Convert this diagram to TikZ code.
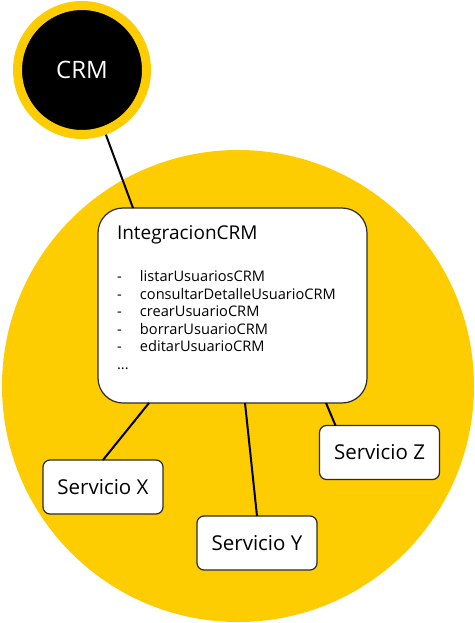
\documentclass[tikz,border=0pt]{standalone}
\usepackage{fontspec}
\setmainfont{Open Sans}
\usetikzlibrary{positioning, calc}
\definecolor{crmyellow}{HTML}{FDCD02}
\definecolor{boxedge}{HTML}{2B2B2B}

\begin{document}
\begin{tikzpicture}[
  x=1pt, y=-1pt,
  every node/.style={inner sep=0pt, outer sep=0pt},
  zone/.style={circle, fill=crmyellow, minimum size=472pt},
  system/.style={
    circle, fill=black, draw=crmyellow, line width=9pt,
    minimum size=129pt, outer sep=4.5pt,
    text=white, font=\fontsize{24}{28}\selectfont,
  },
  module/.style={
    rectangle, rounded corners=25pt,
    minimum width=269pt, minimum height=195pt,
    draw=boxedge, line width=1.2pt, fill=white,
  },
  service/.style={
    rectangle, rounded corners=7pt,
    minimum width=120pt, minimum height=54pt,
    draw=boxedge, line width=1.2pt, fill=white,
    font=\fontsize{20.5}{24}\selectfont,
  },
  link/.style={draw=black, line width=2pt},
]
\useasboundingbox (0,0) rectangle (474,623);

\node[zone]   (zone)  at (238,386)   {};
\node[system] (crm)   at (82,70)     {CRM};
\node[module] (integ) at (232.5,305.5) {};

% contents of the integration box
\node[anchor=base west, font=\fontsize{19}{24}\selectfont] (title) at (117,239) {IntegracionCRM};
\node[anchor=north west, align=left, font=\fontsize{14.6}{17.5}\selectfont] (ops) at (117,270.5)
  {\makebox[23pt][l]{-}listarUsuariosCRM\\
   \makebox[23pt][l]{-}consultarDetalleUsuarioCRM\\
   \makebox[23pt][l]{-}crearUsuarioCRM\\
   \makebox[23pt][l]{-}borrarUsuarioCRM\\
   \makebox[23pt][l]{-}editarUsuarioCRM\\
   ...};

% services
\node[service] (svcx) at (103,487)   {Servicio X};
\node[service] (svcy) at (257,543)   {Servicio Y};
\node[service] (svcz) at (379.5,452.5) {Servicio Z};

% connectors
\draw[link] (crm) -- ([xshift=-99.5pt]integ.north);
\draw[link] ([xshift=-83.5pt]integ.south) -- (svcx.north);
\draw[link] ([xshift=12.5pt]integ.south)  -- (svcy.north);
\draw[link] ([xshift=93.5pt]integ.south)  -- ([xshift=16pt]svcz.north west);

\end{tikzpicture}
\end{document}
